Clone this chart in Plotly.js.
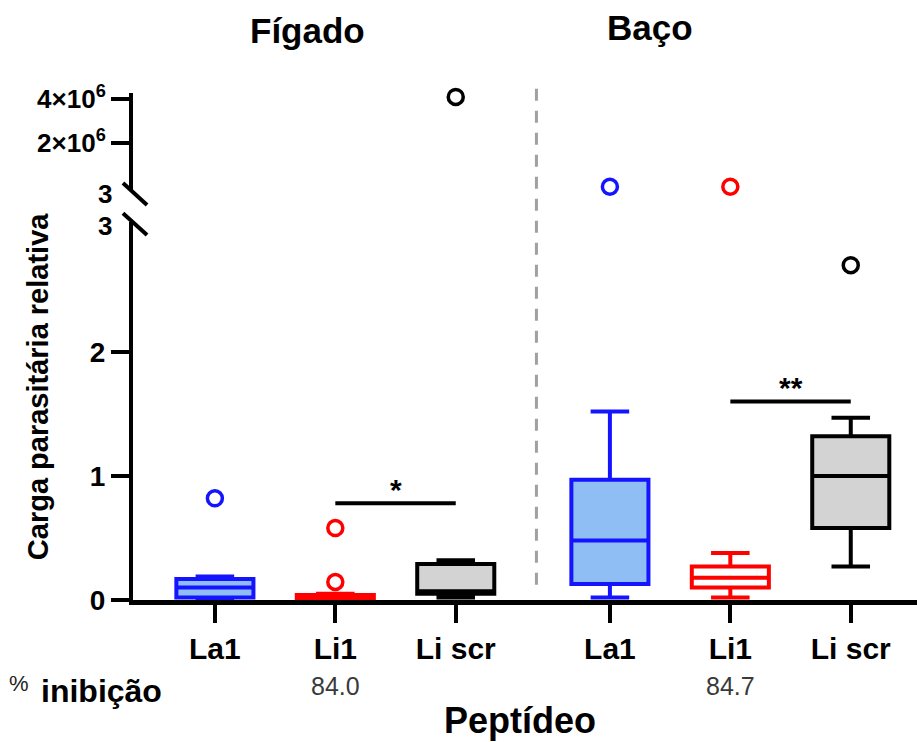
<!DOCTYPE html>
<html>
<head>
<meta charset="utf-8">
<script src="https://cdn.plot.ly/plotly-3.0.1.min.js"></script>
<style>html,body{margin:0;padding:0;background:#fff;}#chart{width:917px;height:742px;}</style>
</head>
<body>
<div id="chart"></div>
<script>
// ---- data ----
const organs = ['Fígado', 'Baço'];
const categories = ['La1', 'Li1', 'Li scr', 'La1', 'Li1', 'Li scr'];
const peptideGroup = [0, 1, 2, 0, 1, 2];           // La1, Li1, Li scr
const organIndex = [0, 0, 0, 1, 1, 1];
const q1 = [0.02, 0.01, 0.05, 0.13, 0.10, 0.58];
const median = [0.10, 0.02, 0.07, 0.48, 0.18, 1.00];
const q3 = [0.17, 0.04, 0.29, 0.97, 0.27, 1.32];
const lowerFence = [0.00, 0.00, 0.02, 0.02, 0.02, 0.27];
const upperFence = [0.19, 0.05, 0.32, 1.52, 0.38, 1.47];
// outliers below the axis break (box index, value)
const outlierLowBox = [0, 1, 1, 5];
const outlierLowVal = [0.82, 0.58, 0.145, 2.70];
// outliers above the axis break (box index, value)
const outlierHighBox = [2, 3, 4];
const outlierHighVal = [4.1e6, 3.5, 3.5];
const inhibition = ['', '84.0', '', '', '84.7', ''];
const sigFrom = [1, 4];
const sigTo = [2, 5];
const sigHeight = [0.78, 1.60];
const sigLabel = ['*', '**'];
const lowTicks = [0, 1, 2];
const highTickVals = [2e6, 4e6];
const highTickText = ['2×10<sup>6</sup>', '4×10<sup>6</sup>'];

// ---- styling / layout helpers ----
const groupGap = 0.28;
const xPos = categories.map((c, i) => i + organIndex[i] * groupGap);
const lineColors = ['#1414ff', '#ff0000', '#000000'];
const fillColors = ['#8fbef4', '#ffffff', '#d3d3d3'];
const peptideNames = ['La1', 'Li1', 'Li scr'];
const FONT = 'Liberation Sans, Arial, sans-serif';

const traces = [];
peptideNames.forEach((name, g) => {
  const idx = categories.map((c, i) => i).filter(i => peptideGroup[i] === g);
  traces.push({
    type: 'box',
    name: name,
    x: idx.map(i => xPos[i]),
    q1: idx.map(i => q1[i]),
    median: idx.map(i => median[i]),
    q3: idx.map(i => q3[i]),
    lowerfence: idx.map(i => lowerFence[i]),
    upperfence: idx.map(i => upperFence[i]),
    boxpoints: false,
    width: 0.64,
    whiskerwidth: 0.5,
    line: {color: lineColors[g], width: 4},
    fillcolor: fillColors[g],
    xaxis: 'x', yaxis: 'y',
    showlegend: false, hoverinfo: 'skip'
  });
  const lo = outlierLowBox.map((b, k) => k).filter(k => peptideGroup[outlierLowBox[k]] === g);
  traces.push({
    type: 'scatter', mode: 'markers', cliponaxis: false,
    x: lo.map(k => xPos[outlierLowBox[k]]),
    y: lo.map(k => outlierLowVal[k]),
    marker: {symbol: 'circle-open', size: 15, color: lineColors[g], line: {width: 3.5, color: lineColors[g]}},
    xaxis: 'x', yaxis: 'y', showlegend: false, hoverinfo: 'skip'
  });
  const hi = outlierHighBox.map((b, k) => k).filter(k => peptideGroup[outlierHighBox[k]] === g);
  traces.push({
    type: 'scatter', mode: 'markers', cliponaxis: false,
    x: hi.map(k => xPos[outlierHighBox[k]]),
    y: hi.map(k => outlierHighVal[k]),
    marker: {symbol: 'circle-open', size: 15, color: lineColors[g], line: {width: 3.5, color: lineColors[g]}},
    xaxis: 'x', yaxis: 'y2', showlegend: false, hoverinfo: 'skip'
  });
});

const shapes = [];
const annotations = [];

// significance bars
sigFrom.forEach((f, k) => {
  shapes.push({type: 'line', xref: 'x', yref: 'y', x0: xPos[f], x1: xPos[sigTo[k]],
    y0: sigHeight[k], y1: sigHeight[k], line: {color: '#000', width: 4}});
  annotations.push({xref: 'x', yref: 'y', x: (xPos[f] + xPos[sigTo[k]]) / 2, y: sigHeight[k] + 0.11,
    yanchor: 'middle', text: sigLabel[k], showarrow: false,
    font: {family: FONT, size: 30, color: '#000', weight: 700}});
});

// dashed separator between organs
shapes.push({type: 'line', xref: 'x', yref: 'paper', x0: 2.67, x1: 2.67, y0: 0.03, y1: 1.01,
  line: {color: '#a0a0a0', width: 3, dash: '12px,10px'}});

// axis break marks
shapes.push({type: 'line', xref: 'paper', yref: 'paper', x0: -0.0128, x1: 0.0179, y0: 0.8225, y1: 0.779,
  line: {color: '#000', width: 4}});
shapes.push({type: 'line', xref: 'paper', yref: 'paper', x0: -0.0128, x1: 0.0179, y0: 0.763, y1: 0.720,
  line: {color: '#000', width: 4}});

// the "3" labels at the axis break
[0.80, 0.737].forEach(yy => {
  annotations.push({xref: 'paper', yref: 'paper', x: -0.024, y: yy, xanchor: 'right', yanchor: 'middle',
    text: '3', showarrow: false, font: {family: FONT, size: 26, color: '#000', weight: 700}});
});

// organ titles
const organTitleX = [0.223, 0.659];
const organTitleY = [1.124, 1.13];
organs.forEach((o, k) => {
  annotations.push({xref: 'paper', yref: 'paper', x: organTitleX[k], y: organTitleY[k],
    xanchor: 'center', yanchor: 'middle', text: o, showarrow: false,
    font: {family: FONT, size: 35, color: '#000', weight: 700}});
});

// inhibition row
inhibition.forEach((t, i) => {
  if (!t) return;
  annotations.push({xref: 'x', yref: 'paper', x: xPos[i], y: -0.17, xanchor: 'center', yanchor: 'middle',
    text: t, showarrow: false, font: {family: FONT, size: 25, color: '#3a3a3a'}});
});
annotations.push({xref: 'paper', yref: 'paper', x: -0.145, y: -0.165, xanchor: 'center', yanchor: 'middle',
  text: '%', showarrow: false, font: {family: FONT, size: 22, color: '#222'}});
annotations.push({xref: 'paper', yref: 'paper', x: -0.04, y: -0.18, xanchor: 'center', yanchor: 'middle',
  text: 'inibição', showarrow: false, font: {family: FONT, size: 32, color: '#000', weight: 700}});

// axis titles
annotations.push({xref: 'paper', yref: 'paper', x: 0.494, y: -0.237, xanchor: 'center', yanchor: 'middle',
  text: 'Peptídeo', showarrow: false, font: {family: FONT, size: 36, color: '#000', weight: 700}});
annotations.push({xref: 'paper', yref: 'paper', x: -0.121, y: 0.42, xanchor: 'center', yanchor: 'middle',
  textangle: -90, text: 'Carga parasitária relativa', showarrow: false,
  font: {family: FONT, size: 29, color: '#000', weight: 700}});

const layout = {
  width: 917, height: 742,
  margin: {l: 133, r: 0, t: 93, b: 142, pad: 0},
  paper_bgcolor: '#fff', plot_bgcolor: '#fff',
  showlegend: false,
  boxmode: 'overlay',
  xaxis: {
    range: [-0.68, 5.83], showgrid: false, zeroline: false,
    showline: true, linecolor: '#000', linewidth: 5,
    ticks: 'outside', ticklen: 18, tickwidth: 4, tickcolor: '#000',
    tickvals: xPos, ticktext: categories,
    tickfont: {family: FONT, size: 30, color: '#000', weight: 700},
    anchor: 'y'
  },
  yaxis: {
    domain: [0, 0.746], range: [0, 3.05],
    showgrid: false, zeroline: false,
    showline: true, linecolor: '#000', linewidth: 4,
    ticks: 'outside', ticklen: 18, tickwidth: 4, tickcolor: '#000',
    tickvals: lowTicks, ticktext: lowTicks.map(String),
    tickfont: {family: FONT, size: 28, color: '#000', weight: 700},
    anchor: 'x'
  },
  yaxis2: {
    domain: [0.809, 1], range: [-0.14e6, 4.28e6],
    showgrid: false, zeroline: false,
    showline: true, linecolor: '#000', linewidth: 4,
    ticks: 'outside', ticklen: 18, tickwidth: 4, tickcolor: '#000',
    tickvals: highTickVals, ticktext: highTickText,
    tickfont: {family: FONT, size: 26, color: '#000', weight: 700},
    anchor: 'x'
  },
  shapes: shapes,
  annotations: annotations
};

Plotly.newPlot('chart', traces, layout, {displayModeBar: false, staticPlot: true});
</script>
</body>
</html>
